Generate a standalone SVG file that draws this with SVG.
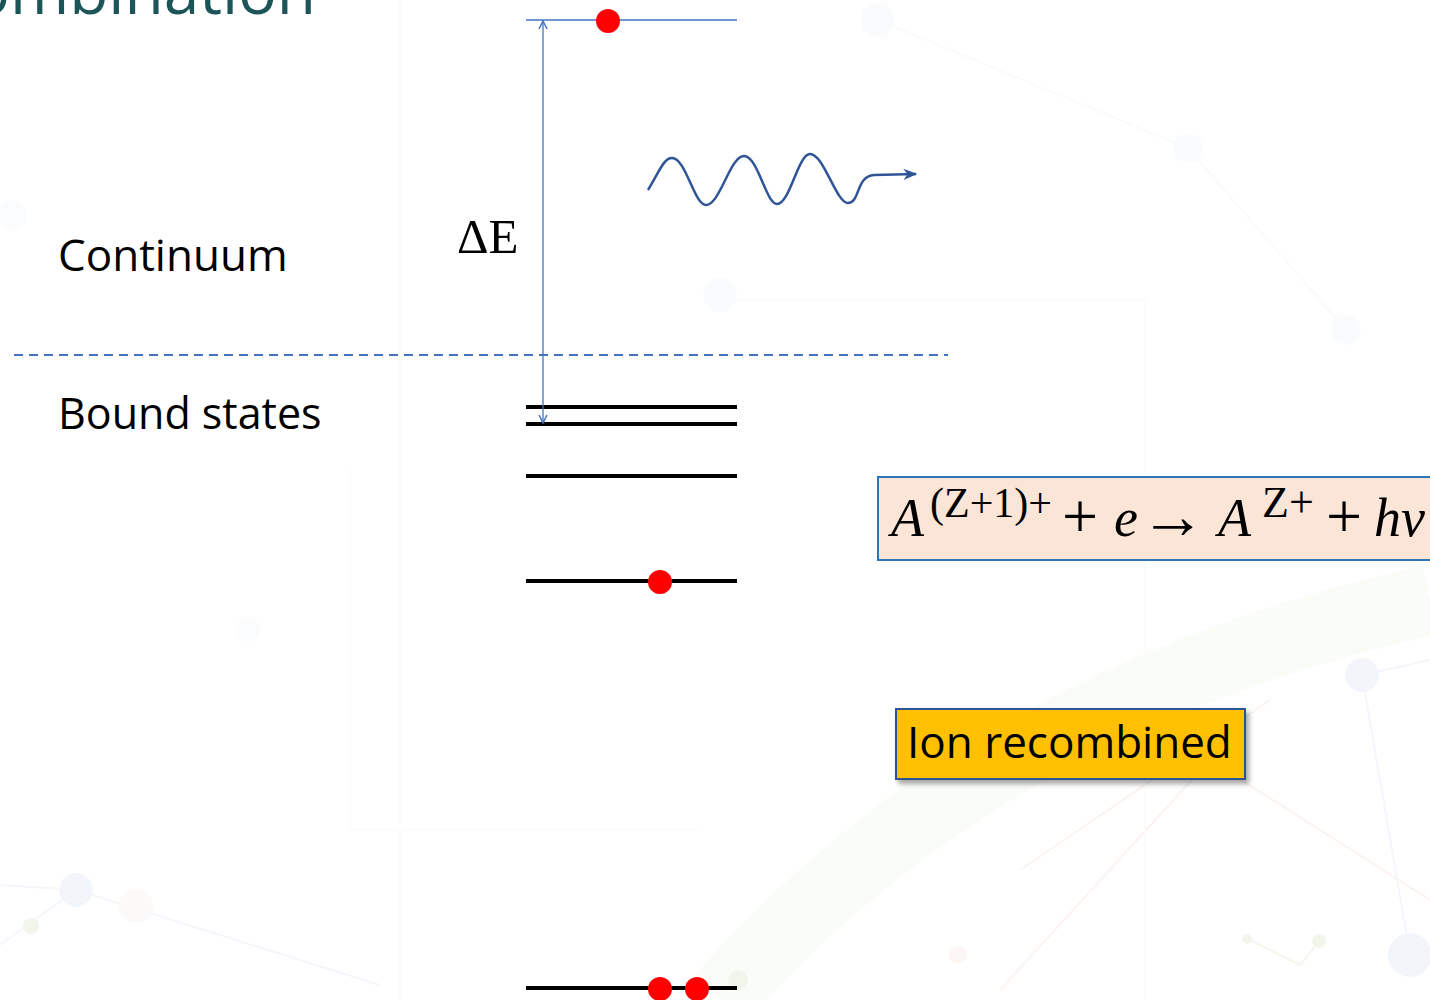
<svg xmlns="http://www.w3.org/2000/svg" width="1430" height="1000" viewBox="0 0 1430 1000">
<style>
.lbl{font-family:"Open Sans","Noto Sans",sans-serif;font-size:44px;fill:#000}
.lvl{stroke:#000;stroke-width:4;fill:none}
.e{fill:#ff0000}
.math{font-family:"Liberation Serif","DejaVu Serif",serif;fill:#000}
.bg{fill:none;stroke-width:2}
</style>
<defs>
<marker id="oa" viewBox="0 0 10 10" refX="9" refY="5" markerWidth="10" markerHeight="10" markerUnits="userSpaceOnUse" orient="auto-start-reverse">
<path d="M1,1 L9,5 L1,9" fill="none" stroke="#4472c4" stroke-width="1.5"/>
</marker>
<marker id="wa" viewBox="0 0 10 10" refX="9" refY="5" markerWidth="14" markerHeight="14" markerUnits="userSpaceOnUse" orient="auto">
<path d="M0,1 L10,5 L0,9 L3,5 Z" fill="#2f5597"/>
</marker>
<filter id="sh" x="-10%" y="-20%" width="120%" height="150%">
<feDropShadow dx="3" dy="4" stdDeviation="2.5" flood-color="#000" flood-opacity="0.35"/>
</filter>
</defs>
<rect width="1430" height="1000" fill="#fff"/>
<g id="background" opacity="0.35">
<path d="M720,1000 Q980,700 1430,600" stroke="#e6f0d8" stroke-width="70" fill="none" opacity="0.5"/>
<path d="M1000,990 L1210,760 L1430,900" class="bg" stroke="#f3ddd3"/>
<path d="M1020,870 L1270,700" class="bg" stroke="#f3ddd3"/>
<path d="M0,885 L76,890 L380,985" class="bg" stroke="#dde9f5"/>
<path d="M0,945 L76,890" class="bg" stroke="#dde9f5"/>
<path d="M878,20 L1188,148 L1346,330" class="bg" stroke="#eef3f8"/>
<path d="M1362,675 L1410,955" class="bg" stroke="#dde9f5"/>
<path d="M1362,675 L1430,660" class="bg" stroke="#dde9f5"/>
<path d="M1250,940 L1300,965 L1320,940" class="bg" stroke="#dbe9cf"/>
<path d="M400,0 L400,1000 M1145,300 L1145,1000 M350,470 L350,830 L700,830 M720,300 L1145,300" class="bg" stroke="#f6f7f8"/>
<circle cx="878" cy="20" r="17" fill="#f1f5fa"/>
<circle cx="1188" cy="148" r="15" fill="#f1f5fa"/>
<circle cx="720" cy="295" r="17" fill="#f1f5fa"/>
<circle cx="1346" cy="330" r="15" fill="#f1f5fa"/>
<circle cx="1362" cy="675" r="17" fill="#dbe8f5"/>
<circle cx="76" cy="890" r="17" fill="#dbe8f5"/>
<circle cx="31" cy="926" r="8" fill="#d6e8c8"/>
<circle cx="136" cy="906" r="17" fill="#f7f2ec"/>
<circle cx="1410" cy="955" r="22" fill="#dbe8f5"/>
<circle cx="738" cy="980" r="10" fill="#d6e8c8"/>
<circle cx="958" cy="955" r="9" fill="#f7e8e0"/>
<circle cx="1319" cy="941" r="7" fill="#d6e8c8"/>
<circle cx="1247" cy="939" r="5" fill="#d6e8c8"/>
<circle cx="248" cy="630" r="12" fill="#f4f6f8"/>
<circle cx="12" cy="215" r="15" fill="#f4f6f8"/>
</g>
<g id="title">
<text x="316" y="14" text-anchor="end" style="font-family:'Open Sans','Noto Sans',sans-serif;font-size:64px;fill:#1b5558">Recombination</text>
</g>
<g id="continuum-label"><text class="lbl" x="58" y="271">Continuum</text></g>
<g id="bound-label"><text class="lbl" x="58" y="429" style="font-size:43px">Bound states</text></g>
<g id="ionization-threshold"><line x1="14" y1="355" x2="948" y2="355" stroke="#4472c4" stroke-width="2" stroke-dasharray="9,6"/></g>
<g id="continuum-level">
<line x1="526" y1="20" x2="737" y2="20" stroke="#4472c4" stroke-width="1.5"/>
<circle class="e" cx="608" cy="21" r="12"/>
</g>
<g id="levels">
<line class="lvl" x1="526" y1="407" x2="737" y2="407"/>
<line class="lvl" x1="526" y1="424" x2="737" y2="424"/>
<line class="lvl" x1="526" y1="476" x2="737" y2="476"/>
<line class="lvl" x1="526" y1="581" x2="737" y2="581"/>
<circle class="e" cx="660" cy="582" r="12"/>
<line class="lvl" x1="526" y1="988" x2="737" y2="988"/>
<circle class="e" cx="660" cy="989" r="12"/>
<circle class="e" cx="697" cy="989" r="12"/>
</g>
<g id="delta-e-label"><text class="math" x="457" y="253" font-size="49">ΔE</text></g>
<g id="photon">
<path d="M648,190 C660,170 664,158 672,158 C686,158 694,205 706,205 C720,205 730,156 744,156 C758,156 766,204 777,204 C790,204 798,154 810,154 C824,154 836,203 848,203 C860,203 856,176 874,175 L916,174" fill="none" stroke="#2f5597" stroke-width="2.5" marker-end="url(#wa)"/>
</g>
<g id="equation">
<rect x="878" y="477" width="560" height="83" fill="#fbe5d6" stroke="#2e75b6" stroke-width="2"/>
<text class="math" y="536" font-size="54"><tspan x="891" font-style="italic">A</tspan><tspan x="930" y="517" font-size="42">(Z+1)+</tspan><tspan x="1062" y="538" font-size="64">+</tspan><tspan x="1114" y="536" font-style="italic">e</tspan><tspan x="1140" y="538" font-size="66">→</tspan><tspan x="1218" y="536" font-style="italic">A</tspan><tspan x="1262" y="517" font-size="44">Z+</tspan><tspan x="1326" y="538" font-size="64">+</tspan><tspan x="1374" y="536" font-style="italic">hν</tspan></text>
</g>
<g id="ion-recombined">
<rect x="896" y="709" width="349" height="70" fill="#ffc000" stroke="#2f528f" stroke-width="2" filter="url(#sh)"/>
<text class="lbl" x="907" y="758">Ion recombined</text>
</g>
<g id="connectors">
<line x1="543" y1="21" x2="543" y2="423" stroke="#4472c4" stroke-width="1.3" marker-start="url(#oa)" marker-end="url(#oa)"/>
</g>
</svg>
